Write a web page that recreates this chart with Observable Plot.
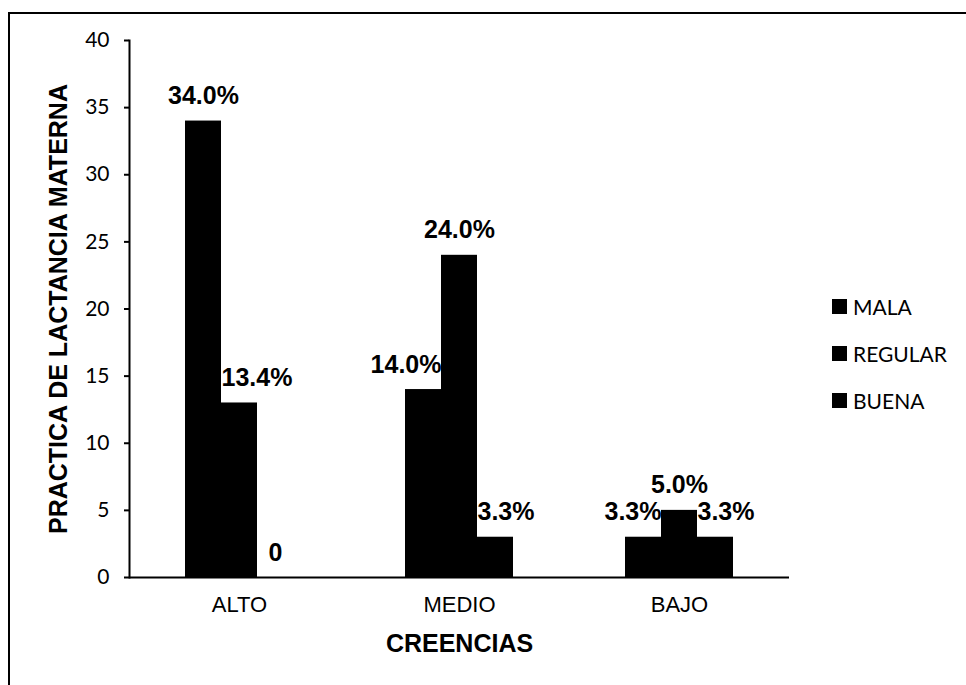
<!DOCTYPE html>
<html>
<head>
<meta charset="utf-8">
<script src="https://cdn.jsdelivr.net/npm/d3@7"></script>
<script src="https://cdn.jsdelivr.net/npm/@observablehq/plot@0.6"></script>
<style>
  html, body { margin: 0; padding: 0; background: #fff; }
  #wrap { position: relative; width: 966px; height: 685px; overflow: hidden; background: #fff; }
  #frameLeft { position: absolute; left: 8px; top: 12px; width: 2px; height: 673px; background: #000; }
  #frameTop { position: absolute; left: 8px; top: 12px; width: 958px; height: 2px; background: #000; }
  #chart { position: absolute; left: 0; top: 0; }
  #legend { position: absolute; left: 832px; top: 283px; font-family: Lato, "Open Sans", sans-serif; font-size: 21px; color: #000; }
  #legend .row { display: flex; align-items: center; height: 47px; line-height: 24px; }
  #legend .sw { width: 15px; height: 15px; background: #000; margin-right: 6px; }
  [aria-label="fx-axis label"] text { font-family: "Liberation Sans", Arial, sans-serif; font-weight: bold; font-size: 25px; }
  [aria-label="y-axis label"] text { font-family: "Liberation Sans", Arial, sans-serif; font-weight: bold; font-size: 25px; }
</style>
</head>
<body>
<div id="wrap">
  <div id="chart"></div>
  <div id="frameLeft"></div>
  <div id="frameTop"></div>
  <div id="legend"></div>
</div>
<script>
// ---- data ----
const categories = ["ALTO", "MEDIO", "BAJO"];
const series = ["MALA", "REGULAR", "BUENA"];
const malaValues = [34, 14, 3];
const regularValues = [13, 24, 5];
const buenaValues = [0, 3, 3];
const malaLabels = ["34.0%", "14.0%", "3.3%"];
const regularLabels = ["13.4%", "24.0%", "5.0%"];
const buenaLabels = ["0", "3.3%", "3.3%"];
const yTicks = [0, 5, 10, 15, 20, 25, 30, 35, 40];
const xTitle = "CREENCIAS";
const yTitle = "PRACTICA DE LACTANCIA MATERNA";

// ---- table built from the arrays ----
const valuesBySeries = [malaValues, regularValues, buenaValues];
const labelsBySeries = [malaLabels, regularLabels, buenaLabels];
const rows = [];
categories.forEach((c, ci) => {
  series.forEach((s, si) => {
    const v = valuesBySeries[si][ci];
    const left = si > 0 ? valuesBySeries[si - 1][ci] : -Infinity;
    const right = si < series.length - 1 ? valuesBySeries[si + 1][ci] : -Infinity;
    // label placement like the original: push label away from a taller neighbour
    let align = "middle";
    if (right > v) align = "end";
    else if (left > v && v > 0) align = "start";
    rows.push({creencia: c, serie: s, value: v, label: labelsBySeries[si][ci], align});
  });
});

const labelFont = {fontFamily: "'Liberation Sans', Arial, sans-serif", fontWeight: "bold", fontSize: 25, fill: "#000"};

const plot = Plot.plot({
  width: 966,
  height: 685,
  marginLeft: 128,
  marginRight: 177,
  marginTop: 40,
  marginBottom: 108,
  style: {background: "transparent", color: "#000", overflow: "visible"},
  fx: {domain: categories, padding: 0},
  x: {domain: series, paddingInner: 0, paddingOuter: 1.5, axis: null},
  y: {domain: [0, 40]},
  marks: [
    Plot.barY(rows, {fx: "creencia", x: "serie", y: "value", fill: "#000", inset: 0}),
    Plot.ruleY([0], {stroke: "#000", strokeWidth: 2}),
    Plot.frame({anchor: "left", facetAnchor: "left", stroke: "#000", strokeWidth: 2}),
    Plot.text(rows.filter(d => d.align === "middle"), {fx: "creencia", x: "serie", y: "value", text: "label", dy: -25, textAnchor: "middle", ...labelFont}),
    Plot.text(rows.filter(d => d.align === "start"), {fx: "creencia", x: "serie", y: "value", text: "label", dy: -25, dx: -18, textAnchor: "start", ...labelFont}),
    Plot.text(rows.filter(d => d.align === "end"), {fx: "creencia", x: "serie", y: "value", text: "label", dy: -25, dx: 18, textAnchor: "end", ...labelFont}),
    Plot.axisY({ticks: yTicks, tickSize: 5, tickPadding: 15, fontSize: 21, fontFamily: "Lato, 'Open Sans', sans-serif",
      label: yTitle, labelAnchor: "center", labelOffset: 80, labelArrow: "none", strokeWidth: 2}),
    Plot.axisFx({anchor: "bottom", tickSize: 0, tickPadding: 19, fontSize: 22, fontFamily: "'Liberation Sans', Arial, sans-serif",
      label: xTitle, labelAnchor: "center", labelOffset: 74, labelArrow: "none"})
  ]
});
document.getElementById("chart").appendChild(plot);

// ---- legend built from the series array ----
const legend = document.getElementById("legend");
series.forEach(s => {
  const row = document.createElement("div");
  row.className = "row";
  const sw = document.createElement("span");
  sw.className = "sw";
  const t = document.createElement("span");
  t.textContent = s;
  row.appendChild(sw);
  row.appendChild(t);
  legend.appendChild(row);
});
</script>
</body>
</html>
